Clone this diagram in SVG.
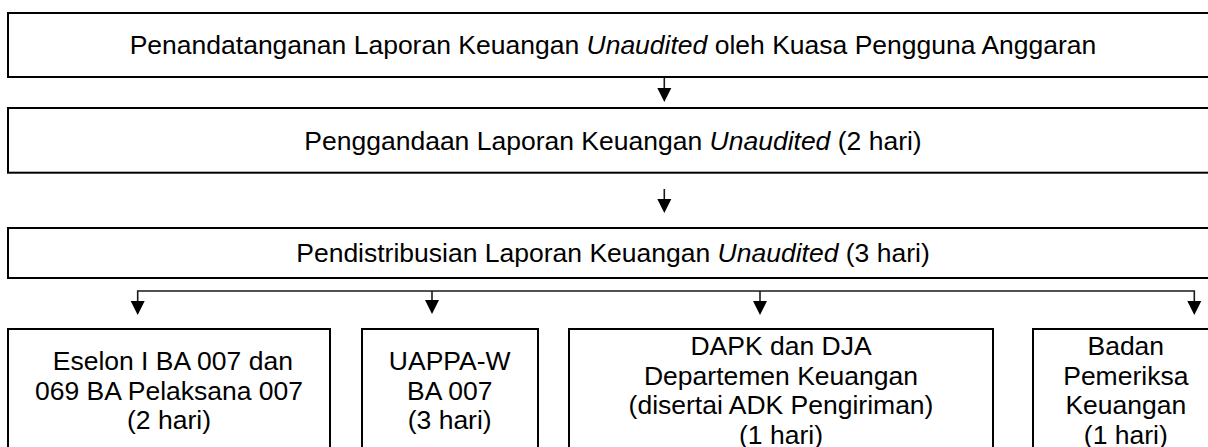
<svg xmlns="http://www.w3.org/2000/svg" width="1208" height="447" viewBox="0 0 1208 447">
<style>
.box{fill:#fff;stroke:#000;stroke-width:2}
.t{font-family:"Liberation Sans",Arial,sans-serif;font-size:26.5px;fill:#000;text-anchor:middle}
.i{font-style:italic}
.ln{fill:none;stroke:#1a1a1a;stroke-width:1.6}
.ah{fill:#000}
</style>
<defs>
<path id="head" d="M-7,0 L7,0 L0,14 Z"/>
</defs>
<rect width="1208" height="447" fill="#fff"/>
<g id="connectors">
<line class="ln" x1="664.3" y1="78" x2="664.3" y2="88"/>
<use href="#head" class="ah" x="664.3" y="88"/>
<line class="ln" x1="664.3" y1="189" x2="664.3" y2="199"/>
<use href="#head" class="ah" x="664.3" y="199"/>
<polyline class="ln" points="137.7,302 137.7,291 1194.3,291 1194.3,302"/>
<line class="ln" x1="432" y1="291" x2="432" y2="302"/>
<line class="ln" x1="760" y1="291" x2="760" y2="302"/>
<use href="#head" class="ah" x="137.7" y="301"/>
<use href="#head" class="ah" x="432" y="300"/>
<use href="#head" class="ah" x="760" y="301"/>
<use href="#head" class="ah" x="1194.3" y="301"/>
</g>
<g id="n1">
<rect class="box" x="8" y="13" width="1210" height="64"/>
<text class="t" x="613" y="54">Penandatanganan Laporan Keuangan <tspan class="i">Unaudited</tspan> oleh Kuasa Pengguna Anggaran</text>
</g>
<g id="n2">
<rect class="box" x="8" y="108" width="1210" height="64.7"/>
<text class="t" x="613" y="150">Penggandaan Laporan Keuangan <tspan class="i">Unaudited</tspan> (2 hari)</text>
</g>
<g id="n3">
<rect class="box" x="8" y="228" width="1210" height="50"/>
<text class="t" x="613" y="262">Pendistribusian Laporan Keuangan <tspan class="i">Unaudited</tspan> (3 hari)</text>
</g>
<g id="n4">
<rect class="box" x="8" y="329" width="322" height="140"/>
<text class="t" x="172.8" y="370">Eselon I BA 007 dan</text>
<text class="t" x="169" y="399.5">069 BA Pelaksana 007</text>
<text class="t" x="169" y="429">(2 hari)</text>
</g>
<g id="n5">
<rect class="box" x="362" y="329" width="176" height="140"/>
<text class="t" x="449.7" y="370">UAPPA-W</text>
<text class="t" x="449.7" y="399.5">BA 007</text>
<text class="t" x="449.7" y="429">(3 hari)</text>
</g>
<g id="n6">
<rect class="box" x="569" y="329" width="424" height="140"/>
<text class="t" x="781" y="355">DAPK dan DJA</text>
<text class="t" x="781" y="384.5">Departemen Keuangan</text>
<text class="t" x="781" y="414">(disertai ADK Pengiriman)</text>
<text class="t" x="781" y="443.5">(1 hari)</text>
</g>
<g id="n7">
<rect class="box" x="1033" y="329" width="186" height="140"/>
<text class="t" x="1125.8" y="355">Badan</text>
<text class="t" x="1125.8" y="384.5">Pemeriksa</text>
<text class="t" x="1125.8" y="414">Keuangan</text>
<text class="t" x="1125.8" y="443.5">(1 hari)</text>
</g>
</svg>
